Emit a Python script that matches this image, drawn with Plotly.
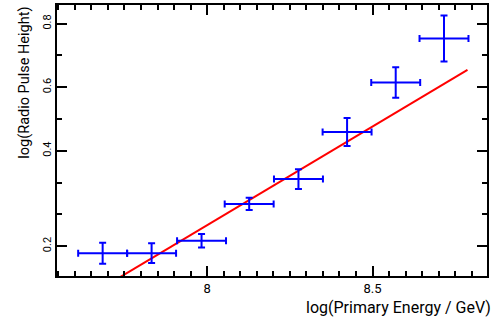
import plotly.graph_objects as go

# Binned measurements: log10 primary energy vs. radio pulse height
log_energy = [7.684, 7.832, 7.983, 8.127, 8.276, 8.423, 8.570, 8.716]
energy_halfbin = [0.074, 0.074, 0.074, 0.074, 0.074, 0.074, 0.074, 0.074]
log_pulse = [0.078, 0.078, 0.117, 0.233, 0.311, 0.459, 0.615, 0.753]
pulse_err = [0.033, 0.031, 0.021, 0.019, 0.031, 0.044, 0.048, 0.072]

# Straight-line fit, given by its two end points
fit_x = [7.62, 8.787]
fit_y = [-0.0697, 0.6544]

# Axis ticks
x_tick_vals = [8.0, 8.5]
x_tick_text = ["8", "8.5"]
y_tick_vals = [0.1, 0.4, 0.6, 0.8]
y_tick_text = ["0.2", "0.4", "0.6", "0.8"]

fig = go.Figure()

fig.add_trace(go.Scatter(
    x=fit_x, y=fit_y, mode="lines",
    line=dict(color="#ff0000", width=2),
    showlegend=False, hoverinfo="skip",
))

fig.add_trace(go.Scatter(
    x=log_energy, y=log_pulse, mode="markers",
    marker=dict(size=1, opacity=0, color="#0000ff"),
    error_x=dict(type="data", array=energy_halfbin, color="#0000ff",
                 thickness=2, width=3.5),
    error_y=dict(type="data", array=pulse_err, color="#0000ff",
                 thickness=2, width=3.5),
    showlegend=False,
))

axis_common = dict(
    showline=True, linecolor="black", linewidth=1.5, mirror="ticks",
    ticks="inside", ticklen=10, tickwidth=1.5, tickcolor="black",
    showgrid=False, zeroline=False,
)

fig.update_xaxes(
    range=[7.546, 8.846], tickmode="array",
    tickvals=x_tick_vals, ticktext=x_tick_text,
    tickfont=dict(family="Roboto", size=13, color="black"),
    minor=dict(tick0=0, dtick=0.05, ticks="inside", ticklen=5,
               tickwidth=1.5, tickcolor="black", showgrid=False),
    **axis_common,
)
fig.update_yaxes(
    range=[0.00625, 0.8584], tickmode="array",
    tickvals=y_tick_vals, ticktext=y_tick_text, tickangle=-90,
    tickfont=dict(family="Roboto", size=11, color="black"),
    minor=dict(tick0=0, dtick=0.1, ticks="inside", ticklen=5,
               tickwidth=1.5, tickcolor="black", showgrid=False),
    **axis_common,
)

fig.add_annotation(
    text="log(Primary Energy / GeV)", xref="paper", yref="paper",
    x=1.014, y=-0.072, xanchor="right", yanchor="top", showarrow=False,
    font=dict(family="Roboto", size=16, color="black"),
)
fig.add_annotation(
    text="log(Radio Pulse Height)", xref="paper", yref="paper",
    x=-0.053, y=1.0, xanchor="right", yanchor="top", textangle=-90,
    showarrow=False, font=dict(family="Roboto", size=14.5, color="black"),
)

fig.update_layout(
    width=493, height=323,
    margin=dict(l=57, r=6, t=3, b=47),
    plot_bgcolor="white", paper_bgcolor="white",
)

fig.write_html("out.html")
